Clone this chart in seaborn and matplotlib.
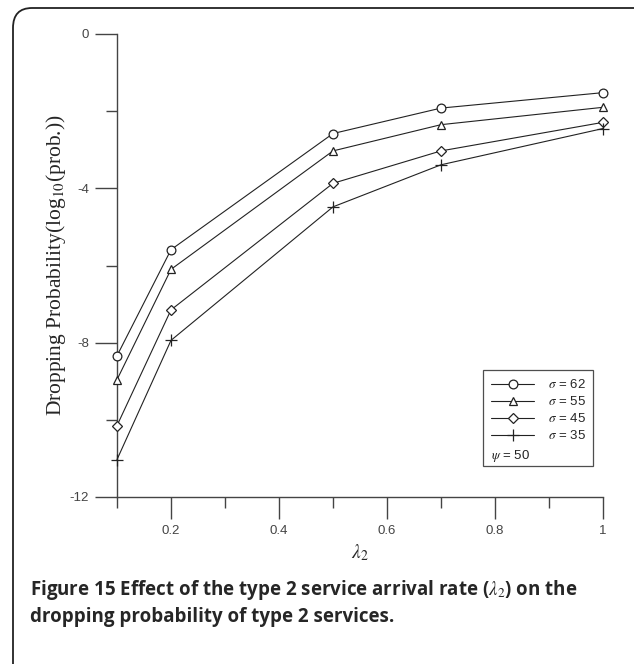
import matplotlib
matplotlib.use("Agg")
import matplotlib.pyplot as plt
import seaborn as sns
import pandas as pd
from matplotlib.lines import Line2D
from matplotlib.patches import FancyBboxPatch

lam2 = [0.1, 0.2, 0.5, 0.7, 1.0]
sigma_labels = ["62", "55", "45", "35"]
s62 = [-8.34, -5.59, -2.58, -1.92, -1.52]
s55 = [-8.96, -6.10, -3.03, -2.35, -1.90]
s45 = [-10.15, -7.15, -3.87, -3.03, -2.29]
s35 = [-11.03, -7.94, -4.48, -3.39, -2.45]
series = [s62, s55, s45, s35]
markers = ["o", "^", "D", "+"]
msizes = [6.3, 5.5, 5, 9]
xmajor = [0.2, 0.4, 0.6, 0.8, 1.0]
xmajor_labels = ["0.2", "0.4", "0.6", "0.8", "1"]
xminor = [0.1, 0.3, 0.5, 0.7, 0.9]
ymajor = [0, -4, -8, -12]
ymajor_labels = ["0", "-4", "-8", "-12"]
yminor = [-2, -6, -10]

sns.set_style("white")
plt.rcParams["font.family"] = ["Liberation Sans", "DejaVu Sans"]
plt.rcParams["mathtext.fontset"] = "stix"

fig = plt.figure(figsize=(6.34, 6.64), dpi=100)
fig.patches.append(FancyBboxPatch((13 / 634, -0.2), 1.2, 1.2 - 8 / 664,
                                  boxstyle="round,pad=0,rounding_size=0.03",
                                  transform=fig.transFigure, fill=False,
                                  edgecolor="#222222", linewidth=1.3))
ax = fig.add_axes([117 / 634, 1 - 497 / 664, (603 - 117) / 634, (497 - 34) / 664])

handles = []
for vals, lab, mk, ms in zip(series, sigma_labels, markers, msizes):
    df = pd.DataFrame({"x": lam2, "y": vals})
    sns.lineplot(data=df, x="x", y="y", ax=ax, color="#222222", linewidth=0.8,
                 marker=mk, markersize=ms, markerfacecolor="white",
                 markeredgecolor="#222222", markeredgewidth=0.9, clip_on=False,
                 zorder=3)
    handles.append(Line2D([], [], color="#222222", linewidth=0.8, marker=mk,
                          markersize=ms, markerfacecolor="white",
                          markeredgecolor="#222222", markeredgewidth=0.9,
                          label=r"$\sigma$ = " + lab))
handles.append(Line2D([], [], linestyle="none", label=" "))

ax.set_xlim(0.1, 1.0)
ax.set_ylim(-12, 0)
ax.set_xticks(xmajor)
ax.set_xticklabels(xmajor_labels)
ax.set_xticks(xminor, minor=True)
ax.set_yticks(ymajor)
ax.set_yticklabels(ymajor_labels)
ax.set_yticks(yminor, minor=True)
for s in ["top", "right"]:
    ax.spines[s].set_visible(False)
for s in ["left", "bottom"]:
    ax.spines[s].set_color("#444444")
    ax.spines[s].set_linewidth(1.0)
ax.tick_params(axis="both", which="major", direction="out", length=16, width=1.0,
               color="#444444", labelsize=9.5, labelcolor="#444444",
               bottom=True, left=True, top=False, right=False)
ax.tick_params(axis="both", which="minor", direction="out", length=8, width=1.0,
               color="#444444", bottom=True, left=True, top=False, right=False)
ax.tick_params(axis="x", which="major", pad=4)
ax.tick_params(axis="y", which="major", pad=4)

ax.set_xlabel(r"$\lambda_2$", fontsize=14, labelpad=4)
ax.set_ylabel(r"Dropping Probability(log$_{10}$(prob.))", fontsize=15.5,
              family="Liberation Serif", labelpad=1)

leg = ax.legend(handles=handles, loc="lower right", bbox_to_anchor=(0.994, 0.052),
                frameon=True, fancybox=False, edgecolor="#222222", fontsize=9.5,
                handlelength=3.3, labelspacing=0.3, borderpad=0.6, handletextpad=1.0)
leg.get_frame().set_linewidth(0.9)

fig.canvas.draw()
fb = leg.get_frame().get_window_extent()
tb = leg.get_texts()[-1].get_window_extent()
inv = fig.transFigure.inverted()
px, py = inv.transform((fb.x0 + 8, (tb.y0 + tb.y1) / 2 - 4))
fig.text(px, py, r"$\psi$ = 50", fontsize=9.5, va="center", ha="left", color="#222222")

fig.text(30 / 634, 1 - 590 / 664, r"Figure 15 Effect of the type 2 service arrival rate ($\lambda_2$) on the",
         fontsize=13.5, fontweight="bold", family="Open Sans", va="center", ha="left")
fig.text(30 / 634, 1 - 617 / 664, "dropping probability of type 2 services.",
         fontsize=13.5, fontweight="bold", family="Open Sans", va="center", ha="left")

fig.savefig("out.png", dpi=100, facecolor="white")
